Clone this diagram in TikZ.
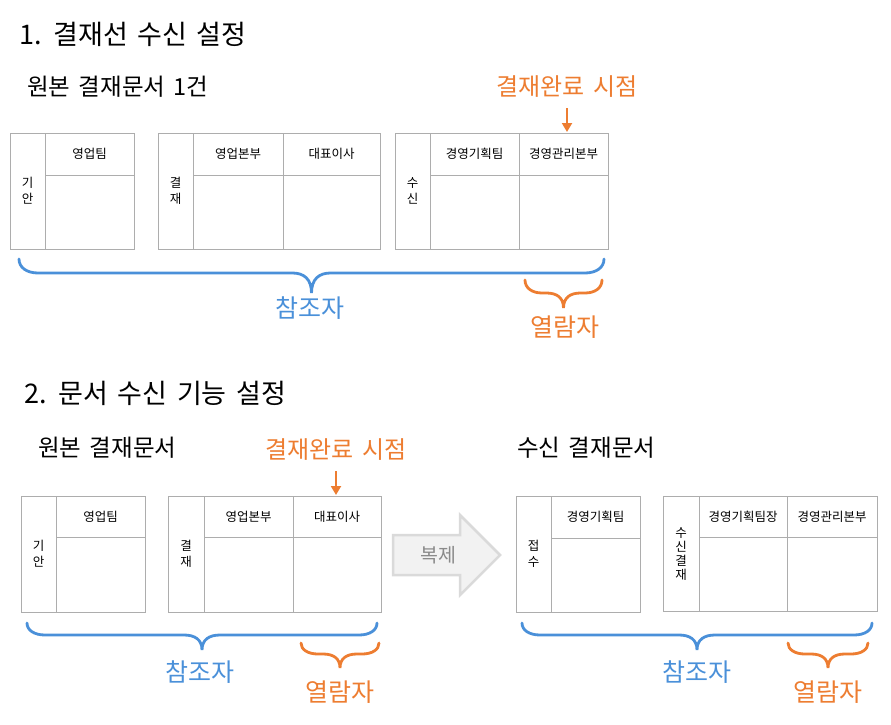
\documentclass[tikz,border=0pt]{standalone}
\usepackage{fontspec}
\setmainfont{Noto Sans CJK KR}[WordSpace=1.6]
\usepackage{tikz}
\usetikzlibrary{arrows.meta}

\definecolor{refblue}{HTML}{4A90D9}
\definecolor{doneorange}{HTML}{ED7D31}
\definecolor{cellgray}{HTML}{ADADAD}
\definecolor{copyfill}{HTML}{F2F2F2}
\definecolor{copyline}{HTML}{DADADA}
\definecolor{copytext}{HTML}{8A8A8A}

\newcommand{\fsz}[1]{\fontsize{#1}{#1}\selectfont}
% brace: style, x1, x2, top, curl depth, tip depth, curl width
\newcommand{\markbrace}[7]{%
  \draw[#1] (#2,#4) .. controls (#2,#4+0.6*#5) and (#2+0.4*#7,#4+#5) .. (#2+#7,#4+#5)
    -- ({(#2+#3)/2-#7},#4+#5) .. controls ({(#2+#3)/2-0.4*#7},#4+#5) and ({(#2+#3)/2},#4+#5+0.3*#6) .. ({(#2+#3)/2},#4+#5+#6)
    .. controls ({(#2+#3)/2},#4+#5+0.3*#6) and ({(#2+#3)/2+0.4*#7},#4+#5) .. ({(#2+#3)/2+#7},#4+#5)
    -- (#3-#7,#4+#5) .. controls (#3-0.4*#7,#4+#5) and (#3,#4+0.6*#5) .. (#3,#4);}

\tikzset{
  every node/.style={inner sep=0pt},
  cell/.style={draw=cellgray, line width=1pt},
  celltext/.style={font=\fsz{12.5}},
  sidetext/.style={font=\fontsize{12.5}{16}\selectfont, align=center},
  titletext/.style={font=\fsz{27}, anchor=west},
  doctext/.style={font=\fsz{23.5}, anchor=west},
  donetext/.style={font=\fsz{24}, text=doneorange},
  donearrow/.style={-{Triangle[length=9pt,width=10pt]}, draw=doneorange, line width=2pt, shorten <=10pt},
  refbrace/.style={draw=refblue, line width=2.8pt, line cap=round},
  viewbrace/.style={draw=doneorange, line width=2.8pt, line cap=round},
  reftext/.style={font=\fsz{25}, text=refblue},
  viewtext/.style={font=\fsz{25}, text=doneorange},
}

\begin{document}
\begin{tikzpicture}[x=1pt, y=-1pt]
  \useasboundingbox (0,0) rectangle (891,724);

  % 1. 결재선 수신 설정
  \node[titletext] (title1) at (19,34) {1. 결재선 수신 설정};
  \node[doctext] (doc1) at (27,87) {원본 결재문서 1건};
  \node[donetext] (done1) at (567,87) {결재완료 시점};

  \draw[cell] (10,133) rectangle (134,249) (45,133) -- (45,249) (45,175) -- (134,175);
  \draw[cell] (158,133) rectangle (380,249) (193,133) -- (193,249) (283,133) -- (283,249) (193,175) -- (380,175);
  \draw[cell] (395,133) rectangle (608,249) (430,133) -- (430,249) (519,133) -- (519,249) (430,175) -- (608,175);
  \coordinate (hit1) at (567,132);

  \node[sidetext] (draft1) at (27.5,191) {기\\안};
  \node[celltext] (sales1) at (89.5,154) {영업팀};
  \node[sidetext] (appr1) at (175.5,191) {결\\재};
  \node[celltext] (hq1) at (238,154) {영업본부};
  \node[celltext] (ceo1) at (331.5,154) {대표이사};
  \node[sidetext] (recv1) at (412.5,191) {수\\신};
  \node[celltext] (plan1) at (474.5,154) {경영기획팀};
  \node[celltext] (mgmt1) at (563.5,154) {경영관리본부};

  \draw[donearrow] (done1) -- (hit1);

  \markbrace{refbrace}{19}{604}{259}{14}{20}{19}
  \markbrace{viewbrace}{525}{602}{280}{13}{15}{17}
  \node[reftext] (ref1) at (310,308) {참조자};
  \node[viewtext] (view1) at (565,327) {열람자};

  % 2. 문서 수신 기능 설정
  \node[titletext] (title2) at (24,393) {2. 문서 수신 기능 설정};
  \node[doctext] (doc2) at (38,448) {원본 결재문서};
  \node[donetext] (done2) at (336,450) {결재완료 시점};
  \node[doctext] (doc3) at (517,448) {수신 결재문서};

  \draw[cell] (21,496) rectangle (145,612) (56,496) -- (56,612) (56,537) -- (145,537);
  \draw[cell] (168,496) rectangle (381,612) (204,496) -- (204,612) (293,496) -- (293,612) (204,537) -- (381,537);
  \draw[cell] (516,496) rectangle (640,612) (551,496) -- (551,612) (551,538) -- (640,538);
  \draw[cell] (663,496) rectangle (877,611) (699,496) -- (699,611) (787,496) -- (787,611) (699,537) -- (877,537);
  \coordinate (hit2) at (336,495);

  \node[sidetext] (draft2) at (38.5,554) {기\\안};
  \node[celltext] (sales2) at (100.5,516.5) {영업팀};
  \node[sidetext] (appr2) at (186,554) {결\\재};
  \node[celltext] (hq2) at (248.5,516.5) {영업본부};
  \node[celltext] (ceo2) at (337,516.5) {대표이사};
  \node[sidetext] (take2) at (533.5,554) {접\\수};
  \node[celltext] (plan2) at (595.5,516.5) {경영기획팀};
  \node[sidetext, font=\fontsize{12.5}{14}\selectfont] (recv2) at (681,554) {수\\신\\결\\재};
  \node[celltext] (chief2) at (743,516.5) {경영기획팀장};
  \node[celltext] (mgmt2) at (832,516.5) {경영관리본부};

  \draw[donearrow] (done2) -- (hit2);

  % 복제
  \draw[fill=copyfill, draw=copyline, line width=2.5pt, line join=miter]
    (393,535) -- (460,535) -- (460,515) -- (500,555) -- (460,595) -- (460,575) -- (393,575) -- cycle;
  \node[font=\fsz{19.5}, text=copytext] (copy) at (438,555) {복제};

  \markbrace{refbrace}{27}{377}{623}{12}{15}{18}
  \markbrace{viewbrace}{301}{379}{643}{11}{14}{17}
  \node[reftext] (ref2) at (200,672) {참조자};
  \node[viewtext] (view2) at (340,692) {열람자};

  \markbrace{refbrace}{522}{872}{623}{12}{15}{18}
  \markbrace{viewbrace}{788}{868}{643}{11}{14}{17}
  \node[reftext] (ref3) at (697,672) {참조자};
  \node[viewtext] (view3) at (828,692) {열람자};
\end{tikzpicture}
\end{document}
